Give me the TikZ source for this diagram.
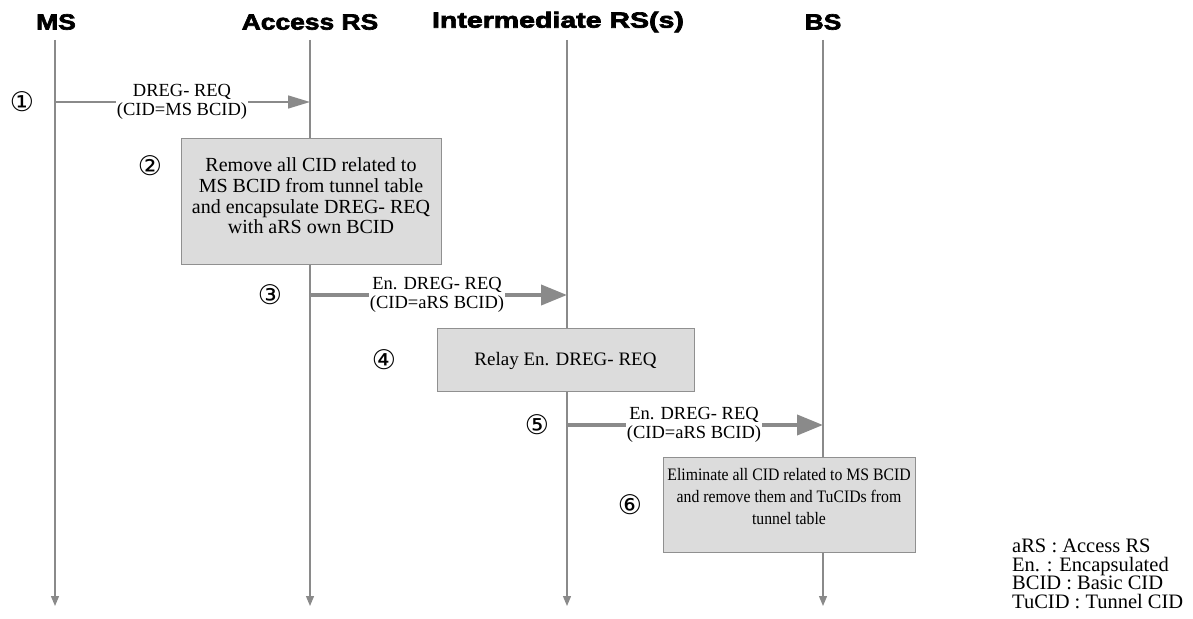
\documentclass[tikz,border=0pt]{standalone}
\usepackage{fontspec}
\setmainfont{Liberation Serif}
\newfontfamily\hdfont[FakeStretch=1.2,FakeBold=3]{Liberation Sans}
\newfontfamily\narrowserif[FakeStretch=0.9]{Liberation Serif}
\newfontfamily\cfont{DejaVu Sans}
\usetikzlibrary{arrows.meta}
\definecolor{lgray}{HTML}{8A8A8A}
\definecolor{boxfill}{HTML}{DCDCDC}
\definecolor{boxline}{HTML}{909090}
\tikzset{
  hdr/.style={font=\hdfont\bfseries\fontsize{22}{24}\selectfont, anchor=center},
  life/.style={draw=lgray, line width=1.2pt, -{Triangle[length=10pt,width=8pt]}},
  thinmsg/.style={draw=lgray, line width=1.5pt, -{Triangle[length=22pt,width=13pt]}},
  thickmsg/.style={draw=lgray, line width=4pt, -{Triangle[length=26pt,width=20pt]}},
  msglbl/.style={fill=white, inner sep=1pt, align=center, font=\fontsize{18.5}{19.5}\selectfont},
  stepbox/.style={draw=boxline, fill=boxfill, line width=1pt, inner sep=0pt},
  boxtext/.style={align=center, inner sep=0pt},
  num/.style={font=\cfont\fontsize{27}{27}\selectfont, inner sep=0pt},
  legend/.style={align=left, anchor=north west, font=\fontsize{20.5}{18.6}\selectfont, inner sep=0pt}
}
\begin{document}
\begin{tikzpicture}[x=1pt,y=-1pt]
\useasboundingbox (0,0) rectangle (1193,618);
% headers
\node[hdr] (hMS) at (56,22) {MS};
\node[hdr] (hAR) at (310,22) {Access RS};
\node[hdr, xscale=1.08] (hIR) at (558,22) {Intermediate RS(s)};
\node[hdr] (hBS) at (823,22) {BS};
% lifelines
\coordinate (tMS) at (55,40); \coordinate (bMS) at (55,606);
\coordinate (tAR) at (310,40); \coordinate (bAR) at (310,606);
\coordinate (tIR) at (567,40); \coordinate (bIR) at (567,606);
\coordinate (tBS) at (823,40); \coordinate (bBS) at (823,606);
\draw[life] (tMS) -- (bMS);
\draw[life] (tAR) -- (bAR);
\draw[life] (tIR) -- (bIR);
\draw[life] (tBS) -- (bBS);
% step 1
\coordinate (m1s) at (55,102); \coordinate (m1e) at (310,102);
\draw[thinmsg] (m1s) -- (m1e);
\node[msglbl] (l1) at (182,102) {DREG- REQ\\(CID=MS BCID)};
\node[num] (n1) at (22,102) {①};
% step 2
\node[stepbox, minimum width=260pt, minimum height=126pt] (b2) at (311,201) {};
\node[boxtext, font=\fontsize{20}{20.7}\selectfont] (t2) at (311,196)
  {Remove all CID related to\\MS BCID from tunnel table\\and encapsulate DREG- REQ\\with aRS own BCID};
\node[num] (n2) at (150,166) {②};
% step 3
\coordinate (m3s) at (310,295); \coordinate (m3e) at (567,295);
\draw[thickmsg] (m3s) -- (m3e);
\node[msglbl] (l3) at (437,295) {En. DREG- REQ\\(CID=aRS BCID)};
\node[num] (n3) at (270,295) {③};
% step 4
\node[stepbox, minimum width=257pt, minimum height=63pt] (b4) at (565.5,359.5) {};
\node[boxtext, font=\fontsize{19}{20}\selectfont] (t4) at (565.5,361) {Relay En. DREG- REQ};
\node[num] (n4) at (384,360) {④};
% step 5
\coordinate (m5s) at (567,425); \coordinate (m5e) at (823,425);
\draw[thickmsg] (m5s) -- (m5e);
\node[msglbl] (l5) at (694,425) {En. DREG- REQ\\(CID=aRS BCID)};
\node[num] (n5) at (537,425) {⑤};
% step 6
\node[stepbox, minimum width=252pt, minimum height=95pt] (b6) at (789,504.5) {};
\node[boxtext, font=\narrowserif\fontsize{17.5}{22}\selectfont] (t6) at (789,497)
  {Eliminate all CID related to MS BCID\\and remove them and TuCIDs from\\tunnel table};
\node[num] (n6) at (630,505) {⑥};
% legend
\node[legend] (leg) at (1012,539) {aRS : Access RS\\En. : Encapsulated\\BCID : Basic CID\\TuCID : Tunnel CID};
\end{tikzpicture}
\end{document}
